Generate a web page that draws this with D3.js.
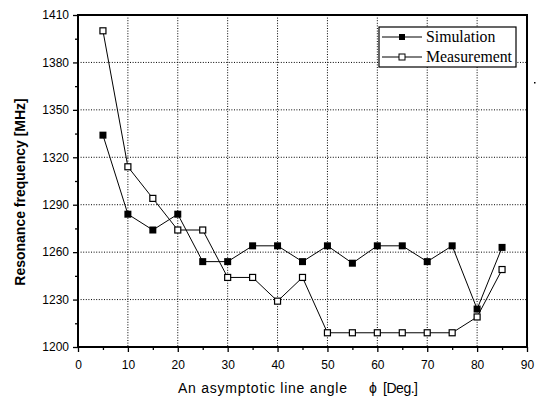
<!DOCTYPE html>
<html><head><meta charset="utf-8">
<script src="https://cdn.jsdelivr.net/npm/d3@7"></script>
<style>body{margin:0;background:#fff}</style>
</head><body>
<svg id="c" width="542" height="401"></svg>
<script>
const angles = [5,10,15,20,25,30,35,40,45,50,55,60,65,70,75,80,85];
const simulation = [1334,1284,1274,1284,1254,1254,1264,1264,1254,1264,1253,1264,1264,1254,1264,1224,1263];
const measurement = [1400,1314,1294,1274,1274,1244,1244,1229,1244,1209,1209,1209,1209,1209,1209,1219,1249];
const xTicks = [0,10,20,30,40,50,60,70,80,90];
const yTicks = [1200,1230,1260,1290,1320,1350,1380,1410];
const seriesNames = ["Simulation","Measurement"];

const svg = d3.select("#c");
const L=78, R=527, T=15, B=347;
const x = d3.scaleLinear().domain([0,90]).range([L,R]);
const y = d3.scaleLinear().domain([1200,1410]).range([B,T]);

// grid
const g = svg.append("g");
g.selectAll(".gx").data(xTicks.slice(1,-1)).enter().append("line")
  .attr("x1",d=>x(d)).attr("x2",d=>x(d)).attr("y1",T).attr("y2",B)
  .attr("stroke","#000").attr("stroke-width",1).attr("stroke-dasharray","1,1.6");
g.selectAll(".gy").data(yTicks.slice(1,-1)).enter().append("line")
  .attr("y1",d=>y(d)).attr("y2",d=>y(d)).attr("x1",L).attr("x2",R)
  .attr("stroke","#000").attr("stroke-width",1).attr("stroke-dasharray","1,1.6");

// axes
const xAxis = d3.axisBottom(x).tickValues(xTicks).tickSize(5).tickPadding(8).tickFormat(d3.format("d"));
const xMinor = d3.axisBottom(x).tickValues(d3.range(5,90,10)).tickSize(3).tickFormat("");
const yAxis = d3.axisLeft(y).tickValues(yTicks).tickSize(5).tickPadding(4).tickFormat(d3.format("d"));
const yMinor = d3.axisLeft(y).tickValues(d3.range(1215,1410,30)).tickSize(3).tickFormat("");

function styleAxis(sel){
  sel.select(".domain").remove();
  sel.selectAll("line").attr("stroke","#000").attr("stroke-width",1.3);
  sel.selectAll("text").attr("font-family","Liberation Sans, Arial, sans-serif").attr("font-size","12px").attr("fill","#000");
}
svg.append("g").attr("transform",`translate(0,${B})`).call(xAxis).call(styleAxis);
svg.append("g").attr("transform",`translate(0,${B})`).call(xMinor).call(styleAxis);
svg.append("g").attr("transform",`translate(${L},0)`).call(yAxis).call(styleAxis);
svg.append("g").attr("transform",`translate(${L},0)`).call(yMinor).call(styleAxis);

// frame
svg.append("rect").attr("x",L).attr("y",T).attr("width",R-L).attr("height",B-T)
  .attr("fill","none").attr("stroke","#000").attr("stroke-width",2);

// series
const line = d3.line().x(d=>x(d[0])).y(d=>y(d[1]));
const sim = angles.map((a,i)=>[a,simulation[i]]);
const mea = angles.map((a,i)=>[a,measurement[i]]);
[sim,mea].forEach(s=>{
  svg.append("path").datum(s).attr("d",line).attr("fill","none").attr("stroke","#000").attr("stroke-width",1);
});
const ms=6;
svg.selectAll(".ms").data(mea).enter().append("rect")
  .attr("x",d=>x(d[0])-ms/2).attr("y",d=>y(d[1])-ms/2).attr("width",ms).attr("height",ms)
  .attr("fill","#fff").attr("stroke","#000").attr("stroke-width",1.2);
svg.selectAll(".ss").data(sim).enter().append("rect")
  .attr("x",d=>x(d[0])-(ms+1)/2).attr("y",d=>y(d[1])-(ms+1)/2).attr("width",ms+1).attr("height",ms+1)
  .attr("fill","#000");

// legend
const lg = svg.append("g");
lg.append("rect").attr("x",379).attr("y",27).attr("width",137).attr("height",40)
  .attr("fill","#fff").attr("stroke","#000").attr("stroke-width",1.2);
seriesNames.forEach((n,i)=>{
  const cy = 37 + i*20;
  lg.append("line").attr("x1",382).attr("x2",422).attr("y1",cy).attr("y2",cy).attr("stroke","#000").attr("stroke-width",1);
  const m = lg.append("rect").attr("x",402-3).attr("y",cy-3).attr("width",6).attr("height",6);
  if(i===0) m.attr("fill","#000"); else m.attr("fill","#fff").attr("stroke","#000").attr("stroke-width",1);
  lg.append("text").attr("x",426).attr("y",cy+5).text(n)
    .attr("font-family","Liberation Serif, Times New Roman, serif").attr("font-size","15.8px").attr("fill","#000");
});

// stray mark
svg.append("rect").attr("x",534).attr("y",82).attr("width",1.5).attr("height",1.5).attr("fill","#000");

// titles
svg.append("text").attr("transform",`translate(25,192) rotate(-90)`).attr("text-anchor","middle")
  .attr("font-family","Liberation Sans, Arial, sans-serif").attr("font-weight","bold").attr("font-size","14px")
  .text("Resonance frequency [MHz]");
const xt = svg.append("text").attr("y",393)
  .attr("font-family","Liberation Sans, Arial, sans-serif").attr("font-size","14px").attr("fill","#000");
xt.append("tspan").attr("x",178).attr("textLength",169).attr("lengthAdjust","spacing").text("An asymptotic line angle");
xt.append("tspan").attr("x",369).text("\u03D5");
xt.append("tspan").attr("x",383).attr("textLength",35).attr("lengthAdjust","spacing").text("[Deg.]");
</script>
</body></html>
